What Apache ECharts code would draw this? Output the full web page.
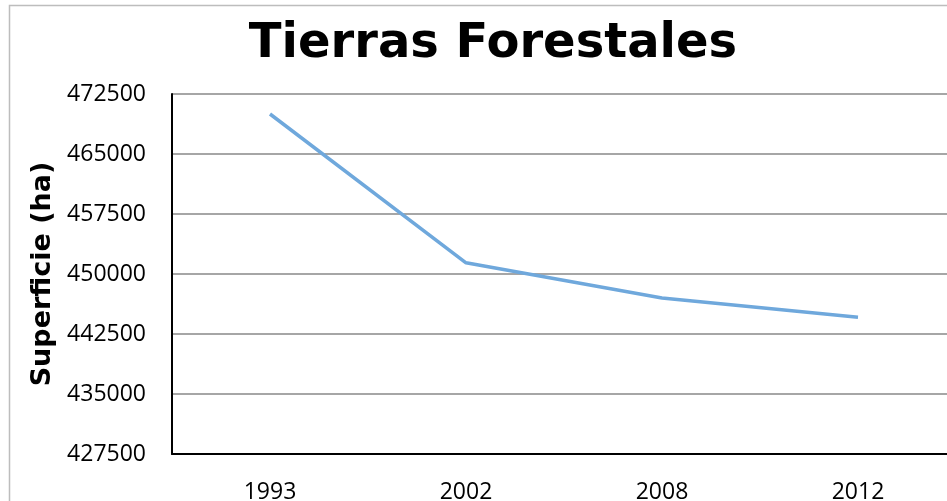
<!DOCTYPE html>
<html>
<head>
<meta charset="utf-8">
<script src="https://cdn.jsdelivr.net/npm/echarts@6/dist/echarts.min.js"></script>
<style>
  html, body { margin: 0; padding: 0; background: #fff; }
  #chart { width: 947px; height: 501px; }
</style>
</head>
<body>
<div id="chart"></div>
<script>
// datos
const years = ['1993', '2002', '2008', '2012']
const superficie = [470000, 451400, 447000, 444600]

const myChart = echarts.init(document.getElementById('chart'))
const option = {
  backgroundColor: '#fff',
  animation: false,
  title: {
    text: 'Tierras Forestales',
    left: 488,
    top: 16,
    textAlign: 'center',
    textStyle: { fontFamily: 'DejaVu Sans', fontWeight: 'bold', fontSize: 48, color: '#000' }
  },
  // marco exterior
  graphic: [{
    type: 'rect',
    shape: { x: 9.5, y: 5.5, width: 1000, height: 1000 },
    style: { fill: 'none', stroke: '#bdbdbd', lineWidth: 1.5 },
    silent: true
  }],
  grid: { left: 172, top: 94, width: 784, bottom: 47, outerBoundsMode: 'none' },
  xAxis: {
    type: 'category',
    data: years,
    boundaryGap: true,
    axisLine: { lineStyle: { color: '#000', width: 2 } },
    axisTick: { show: false },
    axisLabel: { margin: 27, fontFamily: 'Open Sans', fontSize: 23, color: '#000' }
  },
  yAxis: {
    type: 'value',
    min: 427500,
    max: 472500,
    interval: 7500,
    name: 'Superficie (ha)',
    nameLocation: 'middle',
    nameGap: 114,
    nameTextStyle: { fontFamily: 'DejaVu Sans', fontWeight: 'bold', fontSize: 27, color: '#000' },
    axisLine: { show: true, lineStyle: { color: '#000', width: 2 } },
    axisTick: { show: false },
    axisLabel: {
      margin: 26, fontFamily: 'Open Sans', fontSize: 23, color: '#000',
      formatter: v => String(v)
    },
    splitLine: { lineStyle: { color: '#a6a6a6', width: 2 } }
  },
  series: [{
    type: 'line',
    data: superficie,
    symbol: 'none',
    lineStyle: { color: '#6fa8dc', width: 3.5 }
  }]
}
myChart.setOption(option)
</script>
</body>
</html>
